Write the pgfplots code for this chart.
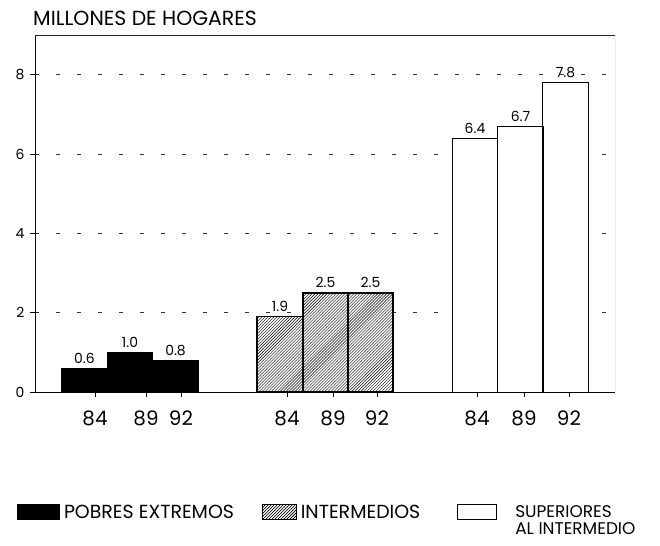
\documentclass[border=0pt]{standalone}
\usepackage{pgfplots}
\pgfplotsset{compat=1.18}
\usetikzlibrary{patterns}
\usepackage{fontspec}
\setmainfont{Poppins}

% bars: x in picture units (axis box is 580 units wide)
\pgfplotstableread{
x    y
49.5 0.6
95   1.0
140.5 0.8
}\pobres
\pgfplotstableread{
x    y
245  1.9
290.5 2.5
335.5 2.5
}\intermedios
\pgfplotstableread{
x    y
440  6.4
485.5 6.7
530.5 7.8
}\superiores

\begin{document}
\begin{tikzpicture}
\path[use as bounding box] (-35bp,-154bp) rectangle (625bp,392bp);
\begin{axis}[
    scale only axis,
    width=580bp, height=357bp,
    anchor=south west, at={(0,0)},
    xmin=0, xmax=580, ymin=0, ymax=9,
    axis x line*=bottom, axis y line*=left,
    axis line style={line width=0.8pt, -},
    xtick={60,111,146,252,298,342,442,489,534},
    xticklabels={84,89,92,84,89,92,84,89,92},
    ytick={0,2,4,6,8},
    tick align=outside,
    major tick length=5bp,
    tick style={black, line width=0.6pt},
    x tick label style={font=\fontsize{20}{22}\selectfont, yshift=-10bp},
    y tick label style={font=\fontsize{14}{16}\selectfont, xshift=-2bp},
    /pgf/number format/assume math mode=true,
    ymajorgrids,
    grid style={black!80, line width=0.5pt, dash pattern=on 4bp off 17bp},
    axis on top=false,
    nodes near coords={\pgfmathprintnumber[fixed,fixed zerofill,precision=1]{\pgfplotspointmeta}},
    nodes near coords style={font=\fontsize{14}{16}\selectfont, /pgf/number format/assume math mode=true, yshift=1bp},
    legend columns=3,
    legend style={at={(rel axis cs:-0.031,-0.31)}, anchor=north west,
        draw=none, fill=none, inner sep=0pt,
        font=\fontsize{19}{20}\selectfont,
        /tikz/every even column/.append style={column sep=26bp},
        /tikz/every odd column/.append style={column sep=2bp}},
    legend cell align=left,
]
\addplot[ybar, bar shift=0pt, bar width=45.5, fill=black, draw=black, line width=0.8pt,
    legend image code/.code={\draw[fill=black, draw=black] (0bp,-7bp) rectangle (42bp,8bp);}]
    table[x=x, y=y] {\pobres};
\addlegendentry{POBRES EXTREMOS}
\addplot[ybar, bar shift=0pt, bar width=45.5, fill=white, draw=black, line width=1.6pt,
    postaction={pattern=north east lines},
    legend image code/.code={\draw[pattern=north east lines, draw=black, line width=0.8pt] (0bp,-7bp) rectangle (34bp,8bp);}]
    table[x=x, y=y] {\intermedios};
\addlegendentry{INTERMEDIOS}
\addplot[ybar, bar shift=0pt, bar width=45.5, fill=white, draw=black, line width=0.8pt,
    legend image code/.code={\path[draw=none, fill=none] (-9bp,0bp) rectangle (54bp,0bp);
        \draw[fill=white, draw=black, line width=0.8pt] (0bp,-7bp) rectangle (39bp,8bp);}]
    table[x=x, y=y] {\superiores};
\addlegendentry{\fontsize{17}{18}\selectfont\begin{tabular}[t]{@{}l@{}}SUPERIORES\\[-1bp]AL INTERMEDIO\end{tabular}}
% frame top and right
\draw[black!85, line width=0.8pt] (rel axis cs:0,1) -- (rel axis cs:1,1);
\draw[black!45, line width=0.8pt] (rel axis cs:1,1) -- (rel axis cs:1,0);
\end{axis}
\node[anchor=base west, font=\fontsize{20.5}{23}\selectfont, inner sep=0pt] at (-2bp,366bp) {MILLONES DE HOGARES};
\end{tikzpicture}
\end{document}
